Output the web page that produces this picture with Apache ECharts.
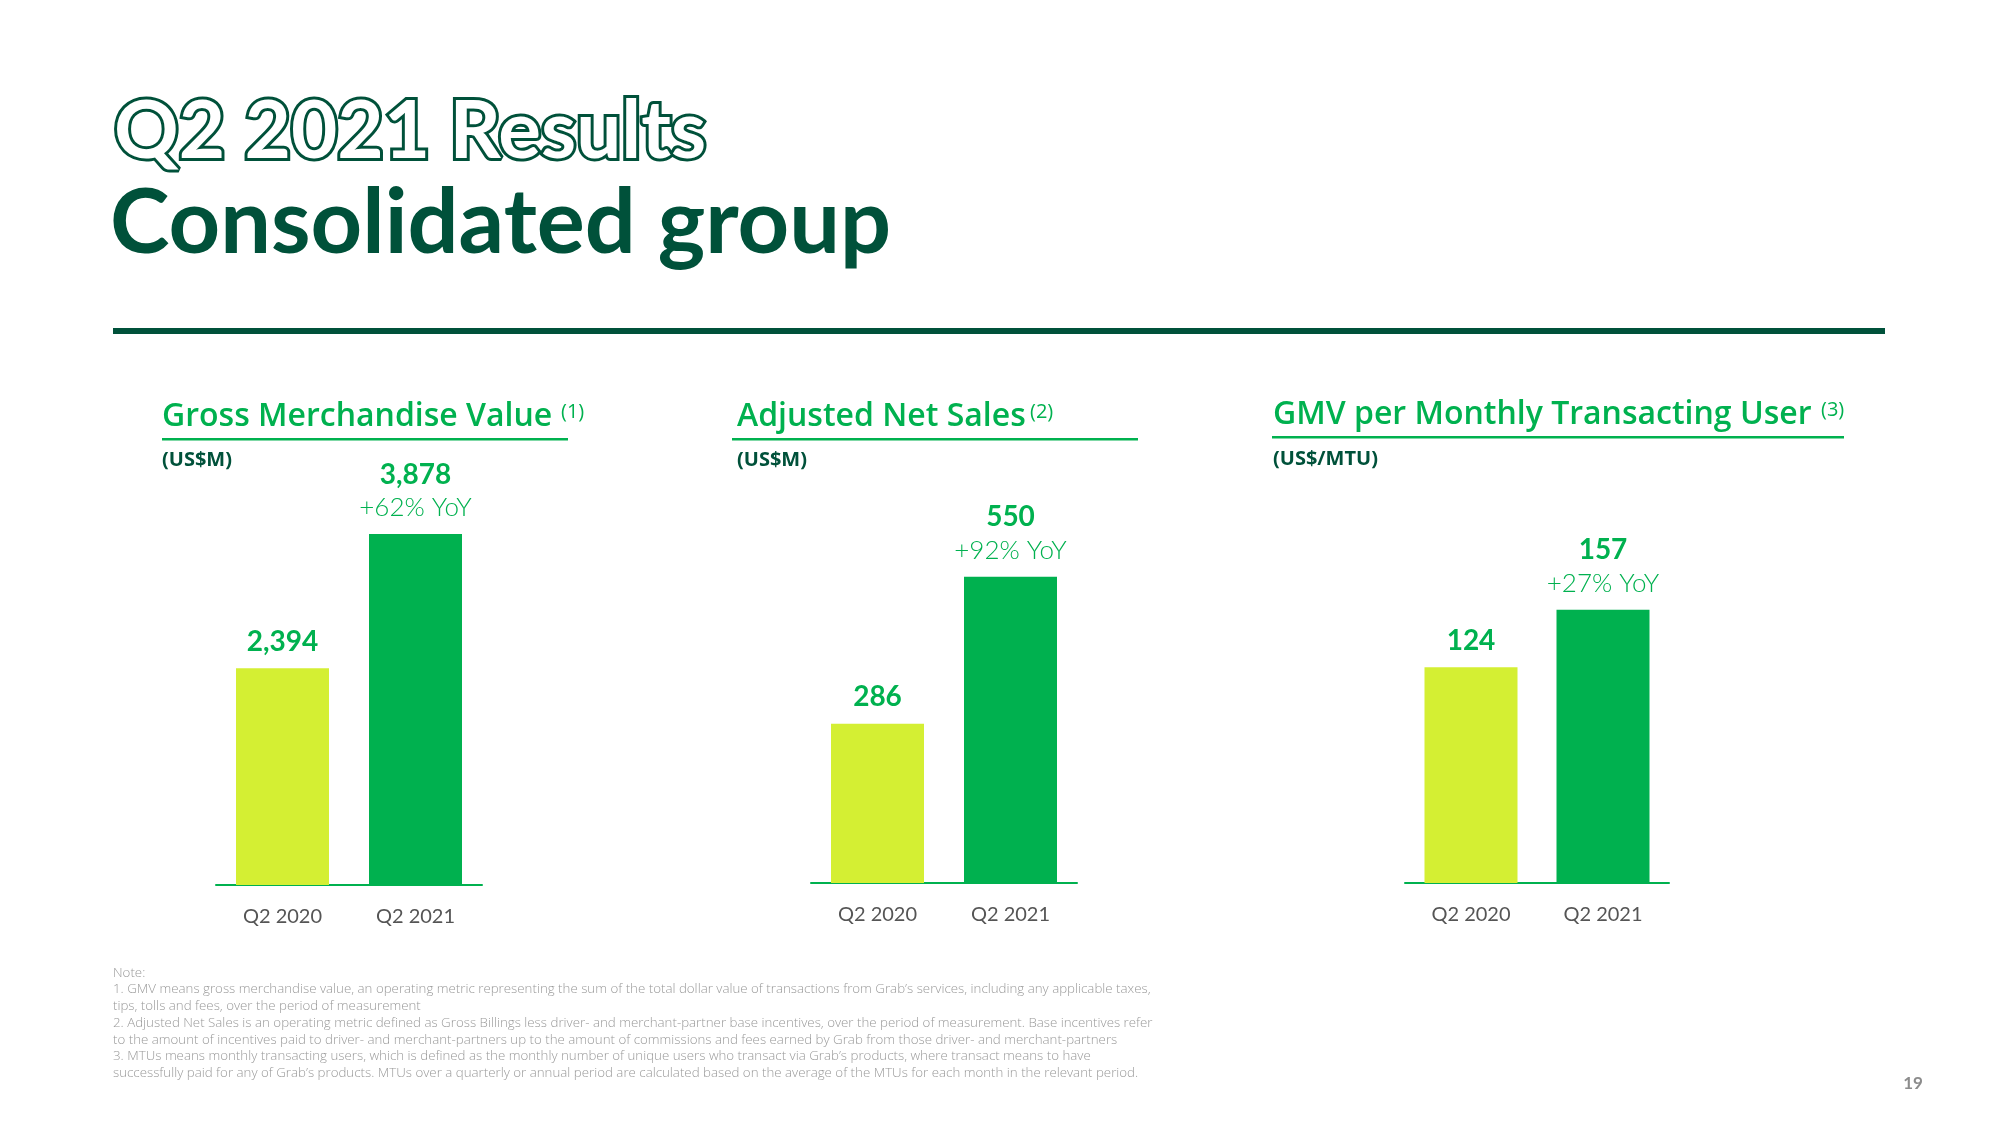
<!DOCTYPE html>
<html>
<head>
<meta charset="utf-8">
<script src="https://cdn.jsdelivr.net/npm/echarts@6/dist/echarts.min.js"></script>
<style>
html,body{margin:0;padding:0;background:#fff;}
#chart{width:2000px;height:1122px;}
</style>
</head>
<body>
<div id="chart"></div>
<script>
// ---- data ----
const categories = ['Q2 2020', 'Q2 2021'];
const gmvValues = [2394, 3878];
const ansValues = [286, 550];
const mtuValues = [124, 157];
const yoyLabels = ['+62% YoY', '+92% YoY', '+27% YoY'];
const panelTitles = ['Gross Merchandise Value', 'Adjusted Net Sales', 'GMV per Monthly Transacting User'];
const panelNotes = ['(1)', '(2)', '(3)'];
const panelUnits = ['(US$M)', '(US$M)', '(US$/MTU)'];
const noteLines = [
  'Note:',
  '1. GMV means gross merchandise value, an operating metric representing the sum of the total dollar value of transactions from Grab\u2019s services, including any applicable taxes,',
  'tips, tolls and fees, over the period of measurement',
  '2. Adjusted Net Sales is an operating metric defined as Gross Billings less driver- and merchant-partner base incentives, over the period of measurement. Base incentives refer',
  'to the amount of incentives paid to driver- and merchant-partners up to the amount of commissions and fees earned by Grab from those driver- and merchant-partners',
  '3. MTUs means monthly transacting users, which is defined as the monthly number of unique users who transact via Grab\u2019s products, where transact means to have',
  'successfully paid for any of Grab\u2019s products. MTUs over a quarterly or annual period are calculated based on the average of the MTUs for each month in the relevant period.'
];
const pageNumber = '19';

// ---- styles ----
const DARK = '#00513a';
const GREEN = '#00b14f';
const LIME = '#d4ef33';
const FONT = 'Lato, "Noto Sans", sans-serif';
const FONT2 = '"Open Sans", "Noto Sans", sans-serif';

const chart = echarts.init(document.getElementById('chart'));

const grids = [
  {left: 216, width: 266, top: 523, height: 362},
  {left: 811, width: 266, top: 549, height: 334},
  {left: 1405, width: 264, top: 535, height: 348}
];
const yMax = [4000, 600, 200];
const seriesValues = [gmvValues, ansValues, mtuValues];

function fmt(v){ return v.toLocaleString('en-US'); }

const series = seriesValues.map((vals, gi) => ({
  type: 'bar',
  xAxisIndex: gi,
  yAxisIndex: gi,
  barWidth: 93,
  data: vals.map((v, i) => ({value: v, itemStyle: {color: i === 0 ? LIME : GREEN}})),
  label: {
    show: true,
    position: 'top',
    distance: 10,
    formatter: p => p.dataIndex === 1 ? '{a|' + fmt(p.value) + '}\n{b|' + yoyLabels[gi] + '}' : '{a|' + fmt(p.value) + '}',
    rich: {
      a: {fontFamily: FONT, fontWeight: 'bold', fontSize: 28, color: GREEN, lineHeight: 33},
      b: {fontFamily: FONT, fontWeight: 300, fontSize: 26, color: GREEN, lineHeight: 33}
    }
  }
}));

const graphics = [];
// Title
graphics.push({type: 'text', left: 111, top: 89, style: {text: 'Q2 2021 Results', fontFamily: FONT, fontWeight: 'bold', fontSize: 80, fill: '#fff', stroke: DARK, lineWidth: 6}});
graphics.push({type: 'text', left: 110, top: 179, style: {text: 'Consolidated group', fontFamily: FONT, fontWeight: 'bold', fontSize: 90, fill: DARK}});
graphics.push({type: 'rect', shape: {x: 113, y: 328, width: 1772, height: 6}, style: {fill: DARK}});

const titleX = [162, 737, 1273];
const supX = [561, 1030, 1821];
const lineSpan = [[162, 568, 439], [732, 1138, 439], [1272, 1844, 437]];
for (let i = 0; i < 3; i++) {
  graphics.push({type: 'text', x: titleX[i], y: 417 - (i === 2 ? 2 : 0), style: {text: panelTitles[i], fontFamily: FONT2, fontWeight: 600, fontSize: 32, fill: GREEN, verticalAlign: 'middle', align: 'left'}});
  graphics.push({type: 'text', x: supX[i], y: 412 - (i === 2 ? 2 : 0), style: {text: panelNotes[i], fontFamily: FONT2, fontWeight: 'normal', fontSize: 20, fill: GREEN, verticalAlign: 'middle', align: 'left'}});
  graphics.push({type: 'rect', shape: {x: lineSpan[i][0], y: lineSpan[i][2] - 1, width: lineSpan[i][1] - lineSpan[i][0], height: 2.5}, style: {fill: GREEN}});
  graphics.push({type: 'text', x: titleX[i], y: 460 - (i === 2 ? 1 : 0), style: {text: panelUnits[i], fontFamily: FONT2, fontWeight: 'bold', fontSize: 20, fill: DARK, verticalAlign: 'middle', align: 'left'}});
}
noteLines.forEach((t, i) => {
  graphics.push({type: 'text', x: 113, y: 973 + i * 16.7, style: {text: t, fontFamily: FONT2, fontWeight: 300, fontSize: 13.3, fill: '#9a9a9a', verticalAlign: 'middle', align: 'left'}});
});
graphics.push({type: 'text', x: 1913, y: 1084, style: {text: pageNumber, fontFamily: FONT, fontWeight: 'bold', fontSize: 17, fill: '#8c8c8c', verticalAlign: 'middle', align: 'center'}});

chart.setOption({
  animation: false,
  grid: grids,
  xAxis: grids.map((g, gi) => ({
    type: 'category',
    gridIndex: gi,
    data: categories,
    axisLine: {show: true, lineStyle: {color: GREEN, width: 2}},
    axisTick: {show: false},
    axisLabel: {color: '#555555', fontFamily: FONT, fontSize: 20, margin: 22}
  })),
  yAxis: grids.map((g, gi) => ({
    type: 'value',
    gridIndex: gi,
    min: 0,
    max: yMax[gi],
    show: false,
    splitLine: {show: false}
  })),
  series: series,
  graphic: graphics
});
</script>
</body>
</html>
